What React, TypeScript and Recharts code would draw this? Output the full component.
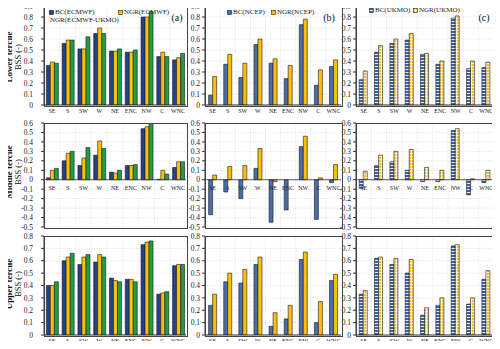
import React from 'react';
import { BarChart, Bar, XAxis, YAxis, CartesianGrid, ReferenceLine, Legend } from 'recharts';

const regions = ['SE', 'S', 'SW', 'W', 'NE', 'ENC', 'NW', 'C', 'WNC'];

// Lower tercile
const lowBcEcmwf = [0.36, 0.56, 0.51, 0.65, 0.49, 0.48, 0.80, 0.44, 0.41];
const lowNgrEcmwf = [0.39, 0.59, 0.51, 0.70, 0.49, 0.48, 0.80, 0.48, 0.43];
const lowNgrEcmwfUkmo = [0.38, 0.59, 0.62, 0.65, 0.51, 0.50, 0.85, 0.44, 0.47];
const lowBcNcep = [0.09, 0.37, 0.25, 0.55, 0.38, 0.24, 0.73, 0.18, 0.35];
const lowNgrNcep = [0.26, 0.46, 0.38, 0.60, 0.42, 0.36, 0.78, 0.32, 0.41];
const lowBcUkmo = [0.23, 0.48, 0.56, 0.59, 0.46, 0.37, 0.79, 0.33, 0.34];
const lowNgrUkmo = [0.31, 0.54, 0.60, 0.65, 0.47, 0.40, 0.81, 0.40, 0.39];

// Middle tercile
const midBcEcmwf = [0.02, 0.20, 0.15, 0.26, 0.08, 0.15, 0.54, 0.005, 0.13];
const midNgrEcmwf = [0.10, 0.28, 0.23, 0.41, 0.07, 0.15, 0.56, 0.10, 0.19];
const midNgrEcmwfUkmo = [0.12, 0.30, 0.34, 0.33, 0.10, 0.16, 0.68, 0.06, 0.19];
const midBcNcep = [-0.37, -0.13, -0.20, 0.12, -0.45, -0.32, 0.35, -0.42, -0.03];
const midNgrNcep = [0.05, 0.14, 0.15, 0.33, -0.02, 0.0, 0.46, 0.02, 0.16];
const midBcUkmo = [-0.09, 0.15, 0.19, 0.10, -0.02, -0.02, 0.52, -0.16, -0.03];
const midNgrUkmo = [0.09, 0.26, 0.30, 0.32, 0.13, 0.10, 0.54, 0.01, 0.10];

// Upper tercile
const upBcEcmwf = [0.40, 0.60, 0.57, 0.59, 0.46, 0.45, 0.73, 0.33, 0.56];
const upNgrEcmwf = [0.40, 0.63, 0.63, 0.65, 0.44, 0.45, 0.75, 0.34, 0.57];
const upNgrEcmwfUkmo = [0.43, 0.66, 0.65, 0.63, 0.43, 0.43, 0.76, 0.35, 0.57];
const upBcNcep = [0.24, 0.43, 0.42, 0.57, 0.07, 0.13, 0.61, 0.10, 0.44];
const upNgrNcep = [0.33, 0.50, 0.53, 0.63, 0.18, 0.24, 0.67, 0.27, 0.49];
const upBcUkmo = [0.33, 0.62, 0.57, 0.50, 0.16, 0.24, 0.72, 0.25, 0.45];
const upNgrUkmo = [0.36, 0.63, 0.62, 0.61, 0.22, 0.30, 0.73, 0.30, 0.52];

const lowTicks = [0, 0.1, 0.2, 0.3, 0.4, 0.5, 0.6, 0.7, 0.8, 0.9];
const midTicks = [-0.5, -0.4, -0.3, -0.2, -0.1, 0, 0.1, 0.2, 0.3, 0.4, 0.5, 0.6];
const upTicks = [0, 0.1, 0.2, 0.3, 0.4, 0.5, 0.6, 0.7, 0.8];

const panelLabels = ['(a)', '(b)', '(c)'];
const rowNames = ['Lower tercile', 'Middle tercile', 'Upper tercile'];
const yTitle = 'BSS (-)';

const FONT = '"Liberation Serif", "Times New Roman", serif';

const C_BC_E = '#24408e';
const C_NGR = '#ffc000';
const C_GREEN = '#1f9e4a';
const C_BC_N = '#4a6ea8';
const C_BC_U = 'url(#patBcUk)';
const C_NGR_U = 'url(#patNgrUk)';

type Series = { key: string; name: string; values: number[]; fill: string };

const cols = [
  { left: 44, right: 186, yW: 32, tm: 8, gap: '15%', legendCols: '69px auto', lx: 49, ly: 8, lw: 130, lbg: 'transparent' },
  { left: 205, right: 341, yW: 16, tm: 2, gap: '24%', legendCols: '44px auto', lx: 227, ly: 8, lw: 100, lbg: 'transparent' },
  { left: 356, right: 494, yW: 16, tm: 2, gap: '21%', legendCols: '44px auto', lx: 369, ly: 6, lw: 88, lbg: '#ffffff' },
];
const rows = [
  { top: 6, bottom: 105 },
  { top: 123, bottom: 227 },
  { top: 236, bottom: 335 },
];

function buildRows(series: Series[]) {
  return regions.map((r, i) => {
    const row: any = { region: r };
    series.forEach((s) => {
      row[s.key] = s.values[i];
    });
    return row;
  });
}

const makeLegend = (gridCols: string, bg: string) => (props: any) => (
  <div
    style={{
      display: 'grid',
      gridTemplateColumns: gridCols,
      fontFamily: FONT,
      fontSize: 7,
      lineHeight: '8px',
      color: '#222',
      background: bg,
    }}
  >
    {(props.payload || []).map((p: any) => (
      <div key={p.value} style={{ display: 'flex', alignItems: 'center', whiteSpace: 'nowrap' }}>
        <svg width={5} height={5} style={{ marginRight: 1 }}>
          <rect x={0.5} y={0.5} width={4} height={4} fill={p.color} stroke="#222" strokeWidth={0.6} />
        </svg>
        {p.value}
      </div>
    ))}
  </div>
);

function Panel(props: {
  col: number;
  row: number;
  series: Series[];
  ticks: number[];
  domain: [number, number];
  showLegend: boolean;
}) {
  const { col, row, series, ticks, domain, showLegend } = props;
  const c = cols[col];
  const r = rows[row];
  const middle = row === 1;
  const mTop = 5;
  const xH = middle ? 6 : 14;
  const left = c.left - c.yW;
  const top = r.top - mTop;
  const width = c.right - left + 1;
  const height = r.bottom - top + xH;
  const plotW = c.right - c.left;
  const plotH = r.bottom - r.top;
  const data = buildRows(series);
  const zeroFromBottom = ((0 - domain[0]) / (domain[1] - domain[0])) * plotH;

  return (
    <div style={{ position: 'absolute', left, top, width, height }}>
      <BarChart
        width={width}
        height={height}
        data={data}
        margin={{ top: mTop, right: 1, bottom: 0, left: 0 }}
        barCategoryGap={c.gap}
        barGap={0}
      >
        <CartesianGrid
          stroke="#cfcfcf"
          strokeDasharray="1 1.5"
          strokeWidth={0.6}
          verticalCoordinatesGenerator={(args: any) => {
            const o = args.offset;
            const out: number[] = [];
            for (let i = 1; i < regions.length; i++) out.push(o.left + (i * o.width) / regions.length);
            return out;
          }}
        />
        <XAxis
          dataKey="region"
          interval={0}
          height={xH}
          axisLine={middle ? false : { stroke: '#333' }}
          tickLine={false}
          tickSize={middle ? 0 : 3}
          tickMargin={middle ? 0 : 1}
          tick={middle ? (tp: any) => (
            <text
              x={tp.x}
              y={mTop + plotH - zeroFromBottom + 10.5}
              textAnchor="middle"
              fontSize={6}
              fontFamily={FONT}
              fill="#222"
            >
              {tp.payload.value}
            </text>
          ) : { fontSize: 6, fill: '#222', fontFamily: FONT }}
        />
        <YAxis
          width={c.yW}
          domain={domain}
          ticks={ticks}
          allowDataOverflow
          interval={0}
          tickSize={3}
          tickMargin={c.tm}
          axisLine={{ stroke: '#333' }}
          tickLine={{ stroke: '#333' }}
          tick={{ fontSize: 7.5, fill: '#222', fontFamily: FONT }}
        />
        {middle && <ReferenceLine y={0} stroke="#333" strokeWidth={0.8} />}
        {series.map((s) => (
          <Bar
            key={s.key}
            dataKey={s.key}
            name={s.name}
            fill={s.fill}
            stroke="#1a1a1a"
            strokeWidth={0.6}
            isAnimationActive={false}
          />
        ))}
        {showLegend && (
          <Legend
            layout="horizontal"
            verticalAlign="middle"
            align="center"
            content={makeLegend(c.legendCols, c.lbg)}
            wrapperStyle={{ top: c.ly - top, left: c.lx - left, width: c.lw, height: 'auto', zIndex: 2 }}
          />
        )}
      </BarChart>
      <div
        style={{
          position: 'absolute',
          left: c.yW - 0.5,
          top: mTop - 0.5,
          width: plotW,
          height: plotH,
          border: '1px solid #444',
          pointerEvents: 'none',
          zIndex: 1,
        }}
      />
    </div>
  );
}

const ecmwfSeries = (a: number[], b: number[], g: number[]): Series[] => [
  { key: 'bc', name: 'BC(ECMWF)', values: a, fill: C_BC_E },
  { key: 'ngr', name: 'NGR(ECMWF)', values: b, fill: C_NGR },
  { key: 'ngr2', name: 'NGR(ECMWF-UKMO)', values: g, fill: C_GREEN },
];
const ncepSeries = (a: number[], b: number[]): Series[] => [
  { key: 'bc', name: 'BC(NCEP)', values: a, fill: C_BC_N },
  { key: 'ngr', name: 'NGR(NCEP)', values: b, fill: C_NGR },
];
const ukmoSeries = (a: number[], b: number[]): Series[] => [
  { key: 'bc', name: 'BC(UKMO)', values: a, fill: C_BC_U },
  { key: 'ngr', name: 'NGR(UKMO)', values: b, fill: C_NGR_U },
];

const panelLabelPos = [
  { x: 177, y: 17 },
  { x: 329, y: 17 },
  { x: 484, y: 17 },
];
const rowCenters = [57, 172, 284];

export default function App() {
  const rowDefs = [
    { ticks: lowTicks, domain: [0, 0.9] as [number, number], s: [ecmwfSeries(lowBcEcmwf, lowNgrEcmwf, lowNgrEcmwfUkmo), ncepSeries(lowBcNcep, lowNgrNcep), ukmoSeries(lowBcUkmo, lowNgrUkmo)] },
    { ticks: midTicks, domain: [-0.5, 0.6] as [number, number], s: [ecmwfSeries(midBcEcmwf, midNgrEcmwf, midNgrEcmwfUkmo), ncepSeries(midBcNcep, midNgrNcep), ukmoSeries(midBcUkmo, midNgrUkmo)] },
    { ticks: upTicks, domain: [0, 0.8] as [number, number], s: [ecmwfSeries(upBcEcmwf, upNgrEcmwf, upNgrEcmwfUkmo), ncepSeries(upBcNcep, upNgrNcep), ukmoSeries(upBcUkmo, upNgrUkmo)] },
  ];
  return (
    <div style={{ position: 'relative', width: 500, height: 349, margin: -8, background: '#fff', overflow: 'hidden', fontFamily: FONT }}>
      <svg width={0} height={0} style={{ position: 'absolute' }}>
        <defs>
          <pattern id="patBcUk" width="4" height="3" patternUnits="userSpaceOnUse">
            <rect width="4" height="3" fill="#3c5fa6" />
            <rect y="2" width="4" height="0.9" fill="#ffffff" />
          </pattern>
          <pattern id="patNgrUk" width="3" height="3" patternUnits="userSpaceOnUse">
            <rect width="3" height="3" fill="#f4c020" />
            <rect y="2" width="3" height="0.8" fill="#ffffff" />
            <rect x="2" width="0.8" height="3" fill="#ffffff" />
          </pattern>
        </defs>
      </svg>
      {rowDefs.map((rd, ri) =>
        rd.s.map((ser, ci) => (
          <Panel
            key={`${ri}-${ci}`}
            col={ci}
            row={ri}
            series={ser}
            ticks={rd.ticks}
            domain={rd.domain}
            showLegend={ri === 0}
          />
        ))
      )}
      {panelLabels.map((l, i) => (
        <div
          key={l}
          style={{
            position: 'absolute',
            left: panelLabelPos[i].x,
            top: panelLabelPos[i].y,
            transform: 'translate(-50%, -50%)',
            fontSize: 10,
            color: '#111',
            zIndex: 3,
          }}
        >
          {l}
        </div>
      ))}
      {rowNames.map((n, i) => (
        <React.Fragment key={n}>
          <div
            style={{
              position: 'absolute',
              left: 9,
              top: rowCenters[i],
              transform: 'translate(-50%, -50%) rotate(-90deg)',
              whiteSpace: 'nowrap',
              fontWeight: 'bold',
              fontSize: 9,
              lineHeight: '10px',
              color: '#111',
              zIndex: 3,
            }}
          >
            {n}
          </div>
          <div
            style={{
              position: 'absolute',
              left: 18,
              top: rowCenters[i],
              transform: 'translate(-50%, -50%) rotate(-90deg)',
              whiteSpace: 'nowrap',
              fontSize: 8.5,
              lineHeight: '10px',
              color: '#111',
              zIndex: 3,
            }}
          >
            {yTitle}
          </div>
        </React.Fragment>
      ))}
    </div>
  );
}
